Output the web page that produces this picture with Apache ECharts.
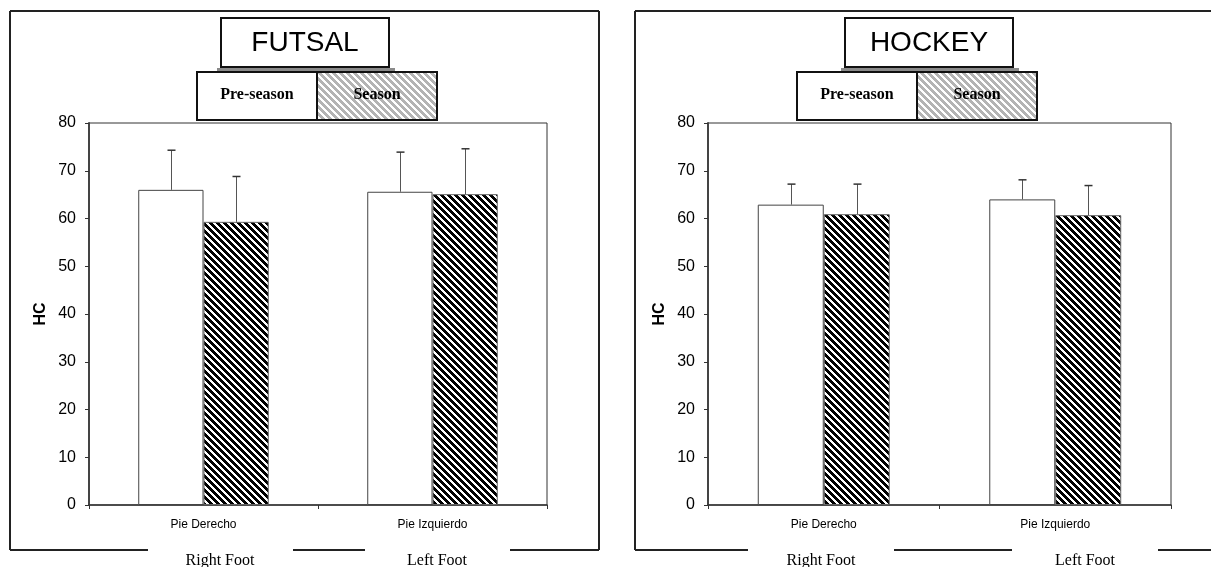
<!DOCTYPE html>
<html>
<head>
<meta charset="utf-8">
<title>FUTSAL / HOCKEY - HC</title>
<script src="https://cdn.jsdelivr.net/npm/echarts@6/dist/echarts.min.js"></script>
<style>body{margin:0;background:#fff;}</style>
</head>
<body>
<div id="main" style="width:1211px;height:567px;"></div>
<script>
// data
var categories = ['Pie Derecho', 'Pie Izquierdo'];
var bottomLabels = ['Right Foot', 'Left Foot'];
var seriesNames = ['Pre-season', 'Season'];
var panelTitles = ['FUTSAL', 'HOCKEY'];

var futsalPre = [66.0, 65.6];
var futsalPreSd = [8.3, 8.3];
var futsalSeason = [59.3, 65.1];
var futsalSeasonSd = [9.5, 9.5];

var hockeyPre = [62.9, 64.0];
var hockeyPreSd = [4.3, 4.1];
var hockeySeason = [60.9, 60.7];
var hockeySeasonSd = [6.3, 6.2];

var yMin = 0, yMax = 80, yStep = 10;

var SANS = 'Liberation Sans, Arial, sans-serif';
var SERIF = 'Liberation Serif, Times New Roman, serif';
var BAR_W = 0.285;

// diagonal "\" stripes
function hatch(size, half, fg) {
    var c = document.createElement('canvas');
    c.width = c.height = size;
    var ctx = c.getContext('2d');
    ctx.fillStyle = '#fff';
    ctx.fillRect(0, 0, size, size);
    ctx.fillStyle = fg;
    for (var y = 0; y < size; y++) {
        for (var x = 0; x < size; x++) {
            if ((((x - y) % size) + size) % size < half) ctx.fillRect(x, y, 1, 1);
        }
    }
    return c;
}
var barHatch = hatch(7, 4, '#000');
var legendHatch = hatch(7, 4, '#b4b4b4');

var myChart = echarts.init(document.getElementById('main'));

function errData(vals, sds) {
    return vals.map(function (v, i) { return [i, v, sds[i]]; });
}

function errorSeries(axis, vals, sds, side) {
    return {
        type: 'custom',
        xAxisIndex: axis,
        yAxisIndex: axis,
        z: 3,
        silent: true,
        encode: { x: 0, y: 1 },
        data: errData(vals, sds),
        renderItem: function (params, api) {
            var idx = api.value(0);
            var v = api.value(1);
            var e = api.value(2);
            var band = api.size([1, 0])[0];
            var off = side * band * BAR_W / 2;
            var p0 = api.coord([idx, v]);
            var p1 = api.coord([idx, v + e]);
            var x = Math.round(p0[0] + off) + 0.5;
            return {
                type: 'group',
                children: [
                    { type: 'line', shape: { x1: x, y1: p0[1], x2: x, y2: p1[1] }, style: { stroke: '#555', lineWidth: 1 } },
                    { type: 'line', shape: { x1: x - 4, y1: p1[1], x2: x + 4, y2: p1[1] }, style: { stroke: '#333', lineWidth: 1.5 } }
                ]
            };
        }
    };
}

function barSeries(axis, name, vals, hatched) {
    return {
        type: 'bar',
        name: name,
        xAxisIndex: axis,
        yAxisIndex: axis,
        data: vals,
        barWidth: (BAR_W * 100) + '%',
        barGap: '0%',
        silent: true,
        itemStyle: hatched
            ? { color: { image: barHatch, repeat: 'repeat' }, borderColor: '#666', borderWidth: 1 }
            : { color: '#fff', borderColor: '#444', borderWidth: 1 }
    };
}

function xAxisCfg(grid) {
    return {
        type: 'category',
        gridIndex: grid,
        data: categories,
        axisLine: { lineStyle: { color: '#333', width: 1.5 } },
        axisTick: { show: true, alignWithLabel: false, length: 4, lineStyle: { color: '#333' } },
        axisLabel: { fontSize: 12, fontFamily: SANS, color: '#000', margin: 14 },
        splitLine: { show: false }
    };
}

function yAxisCfg(grid) {
    return {
        type: 'value',
        gridIndex: grid,
        min: yMin,
        max: yMax,
        interval: yStep,
        name: 'HC',
        nameLocation: 'middle',
        nameRotate: 90,
        nameGap: 40,
        nameTextStyle: { fontSize: 16, fontWeight: 'bold', fontFamily: SANS, color: '#000' },
        axisLine: { show: true, lineStyle: { color: '#444', width: 2 } },
        axisTick: { show: true, length: 4, lineStyle: { color: '#333' } },
        axisLabel: { fontSize: 16, fontFamily: SANS, color: '#000', margin: 13 },
        splitLine: { show: false }
    };
}

// decorations: frames, title boxes, hand-made legends, bottom labels
function ln(x1, y1, x2, y2, w, c) {
    return { type: 'line', silent: true, shape: { x1: x1, y1: y1, x2: x2, y2: y2 }, style: { stroke: c || '#222', lineWidth: w || 2 } };
}
function box(x, y, w, h, fill, stroke, lw) {
    return { type: 'rect', silent: true, shape: { x: x, y: y, width: w, height: h }, style: { fill: fill, stroke: stroke || null, lineWidth: lw || 0 } };
}
function txt(s, x, y, font) {
    return { type: 'text', silent: true, z: 10, style: { text: s, x: x, y: y, font: font, fill: '#000', textAlign: 'center', textVerticalAlign: 'middle' } };
}

function panelDecor(title, titleX, legendX, frame) {
    var g = [];
    // frame
    g.push(ln(frame.left, 11, frame.left, 550));
    g.push(ln(frame.left, 11, frame.right, 11));
    if (frame.right < 1211) g.push(ln(frame.right, 11, frame.right, 550));
    frame.bottom.forEach(function (s) { g.push(ln(s[0], 550, s[1], 550)); });
    bottomLabels.forEach(function (t, i) {
        g.push(txt(t, frame.labels[i], 561, '16px ' + SERIF));
    });
    // title box
    g.push(box(titleX - 4, 68, 178, 3, '#8a8a8a'));
    g.push(box(titleX, 18, 168, 49, '#fff', '#111', 2));
    g.push(txt(title, titleX + 84, 43, '28px ' + SANS));
    // legend box
    g.push(box(legendX, 72, 120, 48, '#fff'));
    g.push(box(legendX + 120, 72, 120, 48, { image: legendHatch, repeat: 'repeat' }));
    g.push(box(legendX, 72, 240, 48, null, '#111', 2));
    g.push(ln(legendX + 120, 72, legendX + 120, 120, 2, '#111'));
    g.push(txt(seriesNames[0], legendX + 60, 95, 'bold 16px ' + SERIF));
    g.push(txt(seriesNames[1], legendX + 180, 95, 'bold 16px ' + SERIF));
    return g;
}

var graphics = [].concat(
    panelDecor(panelTitles[0], 221, 197, {
        left: 10, right: 599,
        bottom: [[10, 148], [293, 365], [510, 599]],
        labels: [220, 437]
    }),
    panelDecor(panelTitles[1], 845, 797, {
        left: 635, right: 1215,
        bottom: [[635, 748], [894, 1012], [1158, 1211]],
        labels: [821, 1085]
    })
);

var option = {
    animation: false,
    backgroundColor: '#fff',
    grid: [
        { left: 89, top: 123, width: 458, height: 382, show: true, borderColor: '#333', borderWidth: 1, backgroundColor: 'transparent' },
        { left: 708, top: 123, width: 463, height: 382, show: true, borderColor: '#333', borderWidth: 1, backgroundColor: 'transparent' }
    ],
    xAxis: [xAxisCfg(0), xAxisCfg(1)],
    yAxis: [yAxisCfg(0), yAxisCfg(1)],
    graphic: graphics,
    series: [
        barSeries(0, seriesNames[0], futsalPre, false),
        barSeries(0, seriesNames[1], futsalSeason, true),
        errorSeries(0, futsalPre, futsalPreSd, -1),
        errorSeries(0, futsalSeason, futsalSeasonSd, 1),
        barSeries(1, seriesNames[0], hockeyPre, false),
        barSeries(1, seriesNames[1], hockeySeason, true),
        errorSeries(1, hockeyPre, hockeyPreSd, -1),
        errorSeries(1, hockeySeason, hockeySeasonSd, 1)
    ]
};

myChart.setOption(option);
</script>
</body>
</html>
